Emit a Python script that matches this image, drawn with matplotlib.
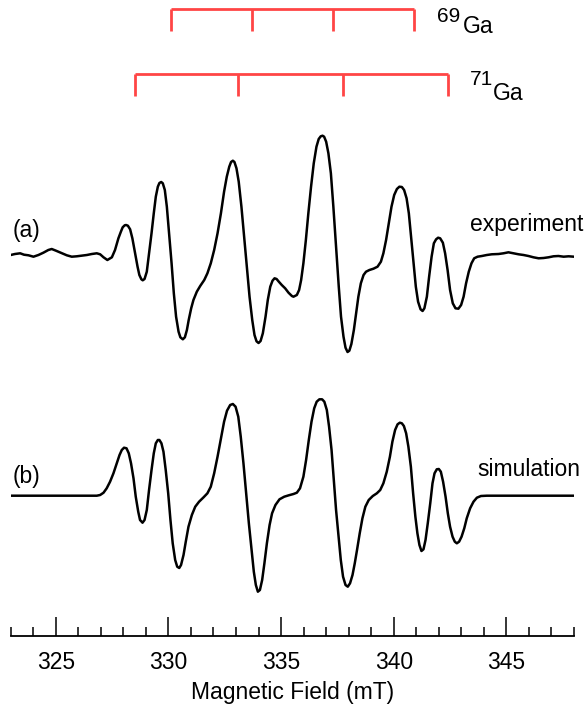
import matplotlib
matplotlib.use("Agg")
import matplotlib.pyplot as plt

plt.rcParams['font.family'] = ['Liberation Sans', 'DejaVu Sans']

# ---- data ----
exp_field = [323.00, 323.19, 323.42, 323.59, 323.79, 324.01, 324.23, 324.45, 324.67, 324.82,
             325.01, 325.22, 325.49, 325.71, 325.93, 326.15, 326.38, 326.60, 326.82, 326.97,
             327.12, 327.29, 327.49, 327.63, 327.78, 327.89, 327.97, 328.06, 328.12, 328.20,
             328.30, 328.40, 328.52, 328.63, 328.71, 328.80, 328.86, 328.94, 329.04, 329.14,
             329.25, 329.35, 329.44, 329.53, 329.60, 329.68, 329.75, 329.84, 329.93, 330.03,
             330.14, 330.24, 330.34, 330.45, 330.53, 330.64, 330.73, 330.82, 330.90, 331.01,
             331.11, 331.26, 331.41, 331.59, 331.73, 331.88, 332.03, 332.18, 332.33, 332.47,
             332.59, 332.70, 332.78, 332.86, 332.93, 333.02, 333.12, 333.24, 333.36, 333.48,
             333.60, 333.72, 333.82, 333.91, 334.00, 334.09, 334.19, 334.31, 334.41, 334.52,
             334.62, 334.71, 334.80, 334.90, 335.03, 335.18, 335.33, 335.48, 335.55, 335.70,
             335.80, 335.89, 335.99, 336.10, 336.21, 336.33, 336.45, 336.57, 336.67, 336.76,
             336.84, 336.91, 337.00, 337.10, 337.21, 337.32, 337.44, 337.56, 337.66, 337.77,
             337.86, 337.95, 338.03, 338.12, 338.23, 338.33, 338.43, 338.54, 338.66, 338.77,
             338.92, 339.10, 339.28, 339.43, 339.54, 339.66, 339.78, 339.90, 340.02, 340.14,
             340.25, 340.36, 340.46, 340.57, 340.67, 340.77, 340.88, 340.98, 341.08, 341.19,
             341.28, 341.36, 341.47, 341.57, 341.68, 341.78, 341.88, 341.97, 342.06, 342.18,
             342.28, 342.39, 342.50, 342.62, 342.74, 342.87, 342.99, 343.10, 343.21, 343.33,
             343.45, 343.57, 343.72, 343.91, 344.13, 344.35, 344.65, 344.87, 345.09, 345.32,
             345.54, 345.76, 345.98, 346.20, 346.43, 346.65, 346.87, 347.09, 347.31, 347.54,
             347.76, 348.00]
exp_signal = [0, 1.0, 1.7, 0.3, -0.3, -1.7, 0, 2.3, 5, 6,
              4.3, 2.3, -0.3, -1.7, -1.3, -0.7, 0, 1, 1.7, 0.7,
              -2.3, -5, -2.3, 5, 16.7, 23.3, 27.7, 29.7, 30, 29.3,
              25.7, 16.7, 1.7, -11.7, -20, -24.3, -25.3, -24, -16.7, 1.7,
              21.7, 41.7, 58.3, 68.3, 72, 73, 71.7, 65, 48.3, 21.7,
              -8.3, -38.3, -61.7, -76.7, -82.3, -84.3, -82.3, -75, -65, -53.3,
              -45, -36.7, -31, -25, -18.3, -8.3, 5, 21.7, 41.7, 63.3,
              78.3, 88.3, 93, 94.3, 93, 86.7, 73.3, 48.3, 18.3, -11.7,
              -41.7, -65, -80, -86.3, -88, -86, -78.3, -61.7, -45, -31.7,
              -25.7, -23.3, -24, -26.7, -30, -33.3, -37.7, -41, -41.7, -40,
              -35, -25, -8.3, 15, 41.7, 68.3, 91.7, 108.3, 116, 118.7,
              119.3, 118.3, 113.3, 101.7, 81.7, 48.3, 8.3, -31.7, -61.7, -81.7,
              -92.7, -97, -95.7, -89, -75, -58.3, -41.7, -28.3, -20, -16.7,
              -15, -13.7, -11.7, -6.7, 1.7, 15, 31.7, 48.3, 60, 66,
              68.3, 68, 65, 56.7, 41.7, 18.3, -8.3, -31.7, -46.7, -54.3,
              -56, -53.3, -41.7, -21.7, -1.7, 11.7, 15.7, 17.3, 16.7, 12.3,
              1.7, -15, -35, -48.3, -53.3, -53.7, -50, -41.7, -28.3, -16.7,
              -8.3, -3.3, -1.7, -1, 0, 0.7, 1, 1.7, 2.7, 1.7,
              0.7, 0, -1, -2.3, -3.3, -3, -2.3, -1.3, -1, -1.7,
              -1.3, -1.7]

sim_field = [323.00, 326.82, 326.97, 327.12, 327.26, 327.41, 327.56, 327.71, 327.83, 327.93,
             328.03, 328.14, 328.24, 328.34, 328.45, 328.55, 328.66, 328.74, 328.85, 328.94,
             329.04, 329.14, 329.25, 329.35, 329.44, 329.53, 329.60, 329.69, 329.78, 329.88,
             329.99, 330.09, 330.19, 330.30, 330.39, 330.48, 330.56, 330.67, 330.77, 330.89,
             331.04, 331.19, 331.36, 331.56, 331.73, 331.88, 332.03, 332.18, 332.33, 332.47,
             332.60, 332.74, 332.86, 332.98, 333.10, 333.21, 333.33, 333.45, 333.57, 333.69,
             333.79, 333.88, 333.97, 334.06, 334.16, 334.26, 334.37, 334.49, 334.60, 334.75,
             334.93, 335.14, 335.34, 335.55, 335.70, 335.84, 335.99, 336.11, 336.23, 336.35,
             336.47, 336.58, 336.70, 336.82, 336.92, 337.03, 337.13, 337.24, 337.34, 337.44,
             337.55, 337.65, 337.75, 337.86, 337.96, 338.06, 338.17, 338.27, 338.37, 338.49,
             338.61, 338.74, 338.89, 339.07, 339.25, 339.40, 339.54, 339.69, 339.83, 339.94,
             340.06, 340.17, 340.27, 340.36, 340.45, 340.55, 340.65, 340.76, 340.86, 340.96,
             341.05, 341.14, 341.23, 341.32, 341.41, 341.51, 341.62, 341.72, 341.81, 341.91,
             342.00, 342.09, 342.19, 342.30, 342.40, 342.50, 342.61, 342.71, 342.80, 342.90,
             343.01, 343.13, 343.24, 343.39, 343.54, 343.69, 343.87, 344.13, 348.00]
sim_signal = [0, 0, 0.7, 3.0, 7.4, 14.0, 22.4, 32.4, 40.7, 45.7,
              48.0, 47.4, 42.4, 32.4, 17.4, -1.0, -16.0, -24.3, -27.0, -24.3,
              -14.3, 5.7, 25.7, 42.4, 52.4, 55.7, 55.7, 52.4, 44.0, 25.7,
              2.4, -24.3, -47.6, -64.3, -71.0, -72.3, -69.3, -59.3, -46.0, -31.0,
              -19.3, -11.0, -6.0, -1.6, 2.4, 9.0, 22.4, 39.0, 57.4, 74.0,
              85.0, 90.7, 91.7, 89.0, 79.0, 59.0, 32.4, 2.4, -27.6, -54.3,
              -76.0, -89.3, -96.0, -94.3, -84.3, -67.6, -47.6, -29.3, -17.6, -9.3,
              -3.6, -1.0, 0.4, 1.7, 3.0, 7.4, 19.0, 35.7, 55.7, 74.0,
              87.4, 94.0, 96.4, 96.4, 94.0, 85.7, 69.0, 45.7, 15.7, -14.3,
              -41.0, -64.3, -81.0, -89.3, -91.0, -87.6, -79.3, -67.6, -54.3, -37.6,
              -22.6, -11.0, -4.3, -0.3, 2.4, 5.7, 12.4, 24.0, 39.0, 54.0,
              65.7, 71.4, 73.0, 72.4, 69.7, 62.4, 49.0, 29.0, 2.4, -21.0,
              -37.6, -49.3, -55.3, -53.6, -44.3, -27.6, -7.6, 12.4, 22.4, 26.4,
              26.7, 24.0, 14.0, -1.0, -17.6, -31.0, -41.0, -46.0, -47.6, -46.0,
              -41.0, -32.6, -22.6, -12.6, -6.0, -2.0, -0.3, 0, 0]

ga69_lines = [330.1, 333.7, 337.3, 340.9]
ga71_lines = [328.5, 333.1, 337.75, 342.4]

major_ticks = [325, 330, 335, 340, 345]
minor_ticks = [323, 324, 326, 327, 328, 329, 331, 332, 333, 334, 336, 337, 338, 339,
               341, 342, 343, 344, 346, 347, 348]

# ---- layout ----
W, H = 584, 711
fig = plt.figure(figsize=(W / 100, H / 100), dpi=100)
ax = fig.add_axes([10.7 / W, 75 / H, 563.3 / W, 636 / H])
ax.set_xlim(323, 348)
ax.set_ylim(0, 636)

exp_base = 381
sim_base = 140.3

ax.plot(exp_field, [exp_base + v for v in exp_signal], color='black', lw=1.8,
        solid_joinstyle='round')
ax.plot(sim_field, [sim_base + v for v in sim_signal], color='black', lw=1.8,
        solid_joinstyle='round')

red = '#ff4545'
for lines, top, bot in [(ga69_lines, 627, 605.3), (ga71_lines, 562, 540)]:
    ax.plot([lines[0], lines[-1]], [top, top], color=red, lw=2, solid_capstyle='butt', clip_on=False)
    ax.vlines(lines, bot, top, color=red, lw=2, clip_on=False)

fs = 16.5
ax.text(323.1, 406, '(a)', fontsize=fs, ha='left', va='center')
ax.text(348.4, 411, 'experiment', fontsize=fs, ha='right', va='center', clip_on=False)
ax.text(323.1, 160, '(b)', fontsize=fs, ha='left', va='center')
ax.text(348.27, 166, 'simulation', fontsize=fs, ha='right', va='center', clip_on=False)

ax.text(341.91, 614, '69', fontsize=15, ha='left', va='baseline')
ax.text(343.05, 603, 'Ga', fontsize=fs, ha='left', va='baseline')
ax.text(343.39, 551, '71', fontsize=15, ha='left', va='baseline')
ax.text(344.38, 536, 'Ga', fontsize=fs, ha='left', va='baseline')

for s in ['top', 'left', 'right']:
    ax.spines[s].set_visible(False)
ax.spines['bottom'].set_linewidth(1.3)
ax.set_yticks([])
ax.set_xticks(major_ticks)
ax.set_xticks(minor_ticks, minor=True)
ax.tick_params(axis='x', which='major', direction='in', length=13.5, width=1.1,
               labelsize=fs, pad=11)
ax.tick_params(axis='x', which='minor', direction='in', length=6.5, width=1.1)
ax.set_xlabel('Magnetic Field (mT)', fontsize=fs, labelpad=5)
ax.patch.set_alpha(0)

fig.savefig('out.png', dpi=100)
